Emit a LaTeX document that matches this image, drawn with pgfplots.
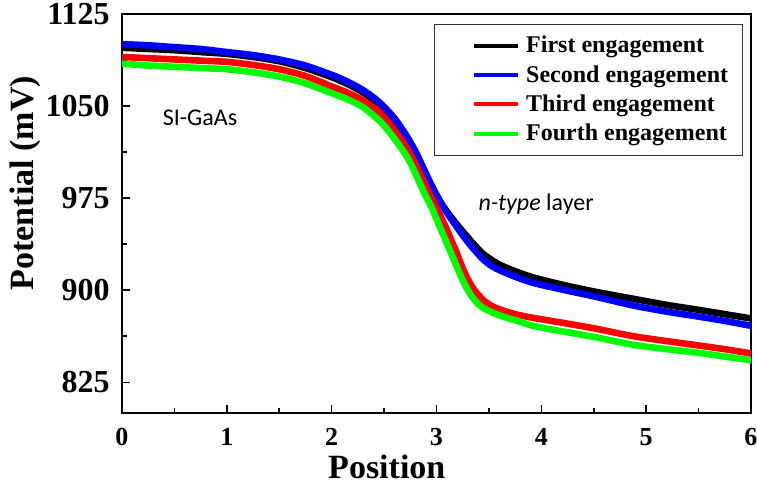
\documentclass[border=0pt]{standalone}
\usepackage{pgfplots}
\pgfplotsset{compat=1.18}
\usepackage{fontspec}
\setmainfont{Liberation Serif}
\newfontfamily\carlito{Carlito}

% Surface potential profiles along the scanned position
\pgfplotstableread{
x      v
0.00   1097.5
0.25   1096.5
0.50   1095.5
0.75   1094.0
1.00   1092.5
1.25   1090.0
1.50   1086.5
1.75   1081.0
2.00   1073.5
2.15   1068.0
2.30   1061.0
2.45   1051.5
2.60   1038.0
2.72   1023.0
2.80   1011.0
2.87   999.0
2.95   985.0
3.03   973.0
3.10   964.0
3.19   954.0
3.27   946.0
3.35   938.0
3.44   930.0
3.52   925.0
3.61   920.5
3.75   915.5
3.92   910.5
4.20   904.5
4.50   899.0
4.88   893.0
5.20   888.0
5.50   884.0
5.75   880.5
6.00   877.0
}\first
\pgfplotstableread{
x      v
0.00   1100.5
0.25   1099.5
0.50   1098.0
0.75   1096.5
1.00   1094.0
1.25   1091.5
1.50   1088.0
1.75   1083.0
2.00   1075.5
2.15   1070.0
2.30   1063.0
2.45   1053.5
2.60   1040.0
2.72   1025.0
2.80   1013.0
2.87   1000.5
2.95   986.0
3.03   973.0
3.10   963.0
3.19   952.0
3.27   942.5
3.35   934.0
3.44   925.5
3.52   920.0
3.61   916.0
3.75   911.0
3.92   906.0
4.20   900.5
4.50   895.0
4.88   887.5
5.20   882.5
5.50   878.5
5.75   875.0
6.00   871.0
}\second
\pgfplotstableread{
x      v
0.00   1090.0
0.25   1089.0
0.50   1088.0
0.75   1087.0
1.00   1086.0
1.25   1083.5
1.50   1080.0
1.75   1074.5
2.00   1066.0
2.15   1061.0
2.30   1054.5
2.45   1045.5
2.53   1038.0
2.62   1028.0
2.72   1015.5
2.80   1003.0
2.87   990.0
2.95   976.0
3.03   962.0
3.10   949.0
3.19   931.0
3.27   914.0
3.35   901.5
3.44   892.5
3.52   887.5
3.60   884.5
3.75   880.5
3.92   877.5
4.20   873.5
4.50   869.0
4.88   862.5
5.20   858.5
5.50   855.0
5.75   852.0
6.00   848.5
}\third
\pgfplotstableread{
x      v
0.00   1084.5
0.25   1083.0
0.50   1082.0
0.75   1081.0
1.00   1080.0
1.25   1077.5
1.50   1074.0
1.75   1068.5
2.00   1060.5
2.15   1055.5
2.30   1049.0
2.45   1038.5
2.53   1031.0
2.62   1021.0
2.72   1008.5
2.80   995.0
2.87   981.5
2.95   968.0
3.02   954.0
3.09   940.0
3.16   926.0
3.24   910.0
3.32   897.0
3.40   888.5
3.48   884.0
3.60   879.5
3.77   875.0
3.92   871.0
4.20   866.5
4.50   862.0
4.88   855.5
5.20   852.0
5.50   849.0
5.75   846.0
6.00   843.0
}\fourth

\begin{document}
\begin{tikzpicture}
\path[use as bounding box] (-61pt,-36.5pt) rectangle (317.5pt,206.5pt);
\begin{axis}[
  at={(0,0)}, anchor=south west,
  scale only axis, width=314.5pt, height=199.5pt,
  xmin=0, xmax=6, ymin=800, ymax=1125,
  xtick={0,1,...,6}, minor xtick={0.5,1.5,...,5.5},
  ytick={825,900,975,1050,1125}, minor ytick={862.5,937.5,1012.5,1087.5},
  xtick pos=bottom, ytick pos=left,
  tick align=inside,
  major tick length=4pt, minor tick length=2.5pt,
  tick style={black, line width=0.8pt},
  axis line style={black, line width=1pt},
  /pgf/number format/assume math mode=true,
  /pgf/number format/1000 sep={},
  xticklabel style={font=\fontsize{13}{13}\selectfont\bfseries, anchor=base, yshift=-16.5pt},
  yticklabel style={font=\fontsize{16}{16}\selectfont\bfseries, anchor=east, inner sep=0pt, xshift=-6pt},
  xlabel={Position},
  xlabel style={font=\fontsize{17}{17}\selectfont\bfseries, at={(axis description cs:0.421,-0.163)}, anchor=base},
  ylabel={Potential (mV)},
  ylabel style={font=\fontsize{17}{17}\selectfont\bfseries, at={(axis description cs:-0.154,0.576)}, anchor=center, rotate=0},
  legend style={at={(axis description cs:0.987,0.976)}, anchor=north east,
    draw=black!80, line width=0.6pt, fill=white,
    font=\fontsize{12}{12}\selectfont\bfseries,
    inner xsep=4pt, inner ysep=4pt, row sep=0.8pt,
    nodes={inner xsep=3pt}},
  legend cell align=left,
  legend image code/.code={%
    \path[draw=none] (0pt,0pt) (38pt,0pt);
    \draw[#1, line width=2pt, line cap=butt] (16pt,0pt) -- (38pt,0pt);},
  every axis plot/.append style={line width=3.3pt, line join=round, line cap=round, smooth, tension=0.45},
]
\addplot[black] table[x=x, y=v] {\first};
\addlegendentry{First engagement}
\addplot[blue] table[x=x, y=v] {\second};
\addlegendentry{Second engagement}
\addplot[red] table[x=x, y=v] {\third};
\addlegendentry{Third engagement}
\addplot[green] table[x=x, y=v] {\fourth};
\addlegendentry{Fourth engagement}

\node[font=\carlito\fontsize{12}{12}\selectfont] at (axis cs:0.744,1040.2) {SI-GaAs};
\node[font=\carlito\fontsize{12}{12}\selectfont] at (axis cs:3.95,970) {{\itshape n-type} layer};
\end{axis}
\end{tikzpicture}
\end{document}
